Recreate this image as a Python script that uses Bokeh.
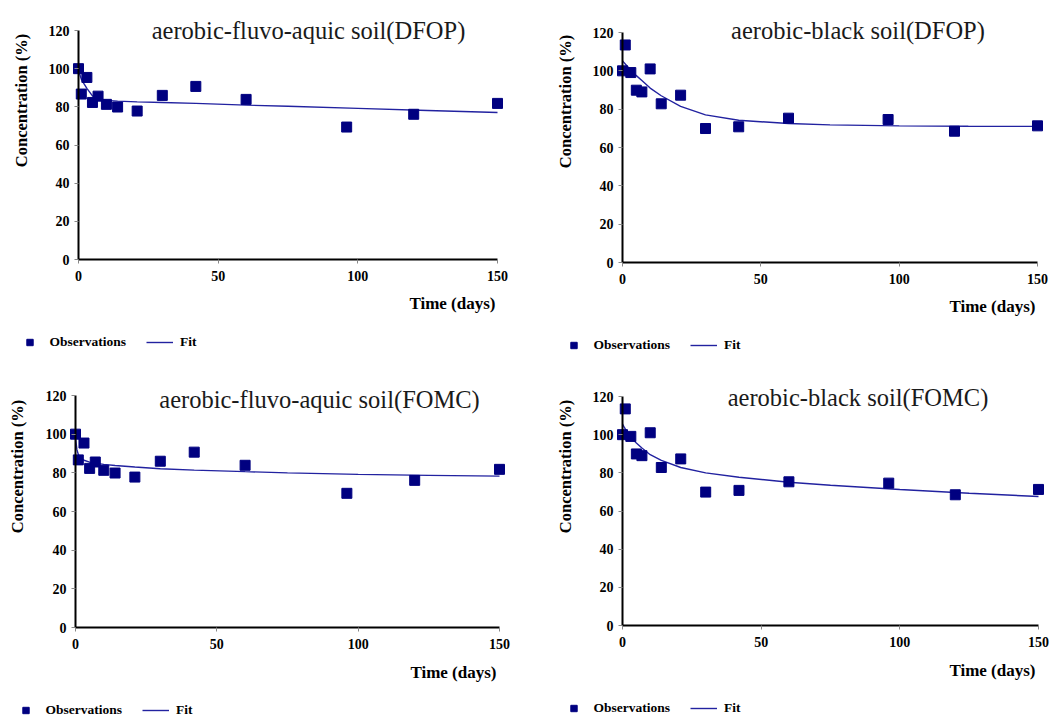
import math
from bokeh.plotting import figure
from bokeh.models import Range1d, Label, Legend, LegendItem, FixedTicker
from bokeh.layouts import row, column
from bokeh.embed import file_html
from bokeh.resources import INLINE

# ---------------- data ----------------
times = [0, 1, 3, 5, 7, 10, 14, 21, 30, 42, 60, 96, 120, 150]
fluvo_obs = [100.0, 86.7, 95.4, 82.3, 85.6, 81.3, 79.9, 77.8, 86.0, 90.7, 83.9, 69.4, 76.1, 81.8]
black_obs = [100.0, 113.5, 99.1, 89.9, 89.0, 101.0, 82.8, 87.3, 69.9, 70.8, 75.3, 74.6, 68.5, 71.3]

fit_t = [0, 0.5, 1, 2, 3, 5, 7, 10, 14, 21, 30, 42, 60, 75, 100, 125, 150]
fit_fluvo_dfop = [99.0, 96.8, 94.5, 92.0, 89.7, 85.7, 84.3, 83.4, 83.0, 82.6, 82.3, 81.8, 80.9, 80.3, 79.2, 78.1, 77.0]
fit_black_dfop = [105.2, 104.4, 103.6, 102.0, 100.5, 97.5, 95.0, 91.0, 87.0, 81.5, 77.0, 74.2, 72.5, 71.8, 71.3, 71.1, 71.0]
fit_fluvo_fomc = [98.0, 92.0, 89.5, 87.5, 86.5, 85.5, 85.0, 84.4, 83.8, 83.0, 82.1, 81.4, 80.6, 80.0, 79.2, 78.7, 78.3]
fit_black_fomc = [105.6, 104.2, 103.0, 100.7, 98.6, 95.6, 93.0, 89.5, 86.5, 82.8, 80.0, 77.7, 75.1, 73.5, 71.3, 69.3, 67.6]

titles = ["aerobic-fluvo-aquic soil(DFOP)", "aerobic-black soil(DFOP)",
          "aerobic-fluvo-aquic soil(FOMC)", "aerobic-black soil(FOMC)"]
y_ticks = [0, 20, 40, 60, 80, 100, 120]
x_ticks = [0, 50, 100, 150]
y_label = "Concentration (%)"
x_label = "Time (days)"
legend_labels = ["Observations", "Fit"]

SERIF = "Liberation Serif"
OBS_COLOR = "#000080"
FIT_COLOR = "#2222a0"
W, H = 529, 360
X0, X1, Y0, Y1 = 0.0, 150.0, 0.0, 120.0


def make_panel(title, obs, fit, L, R, T, B, title_cx, title_base,
               ylab_cx, ylab_cy, xlab_right, xlab_cy, leg_x0, leg_cy):
    # frame covers the whole canvas; data box [0,150]x[0,120] maps to L..R, B..T pixels
    sx = (X1 - X0) / (R - L)
    sy = (Y1 - Y0) / (B - T)

    def dx(px):
        return X0 + (px - L) * sx

    def dy(py):
        return Y0 + (B - py) * sy

    p = figure(width=W, height=H,
               x_range=Range1d(dx(0), dx(W)), y_range=Range1d(dy(H), dy(0)),
               output_backend="svg", toolbar_location=None,
               min_border=0, min_border_left=0, min_border_right=0,
               min_border_top=0, min_border_bottom=0)
    p.xgrid.visible = False
    p.ygrid.visible = False
    p.outline_line_color = None
    p.background_fill_color = "white"
    p.border_fill_color = "white"

    for ax, ticks, bnds in ((p.xaxis[0], x_ticks, (X0, X1)), (p.yaxis[0], y_ticks, (Y0, Y1))):
        ax.ticker = FixedTicker(ticks=ticks)
        ax.bounds = bnds
        ax.fixed_location = 0
        ax.axis_line_color = "black"
        ax.axis_line_width = 2
        ax.major_tick_line_color = "#888888"
        ax.major_tick_line_width = 1
        ax.major_tick_out = 4
        ax.major_tick_in = 0
        ax.minor_tick_line_color = None
        ax.major_label_text_font = SERIF
        ax.major_label_text_font_style = "bold"
        ax.major_label_text_font_size = "14px"
        ax.major_label_text_color = "black"
    p.yaxis[0].major_label_standoff = 5
    p.xaxis[0].major_label_standoff = 7

    r_fit = p.line(fit_t, fit, line_color=FIT_COLOR, line_width=1.4)
    r_obs = p.scatter(times, obs, marker="square", size=10,
                      fill_color=OBS_COLOR, line_color=OBS_COLOR)

    p.add_layout(Label(x=dx(title_cx), y=dy(title_base), text=title,
                       text_align="center", text_baseline="alphabetic",
                       text_font=SERIF, text_font_size="24.5px", text_color="#1a1a1a"))
    p.add_layout(Label(x=dx(ylab_cx), y=dy(ylab_cy), text=y_label, angle=math.pi / 2,
                       text_align="center", text_baseline="middle",
                       text_font=SERIF, text_font_style="bold", text_font_size="16.5px",
                       text_color="black"))
    p.add_layout(Label(x=dx(xlab_right), y=dy(xlab_cy), text=x_label,
                       text_align="right", text_baseline="middle",
                       text_font=SERIF, text_font_style="bold", text_font_size="17px",
                       text_color="black"))

    legend = Legend(items=[LegendItem(label=legend_labels[0], renderers=[r_obs]),
                           LegendItem(label=legend_labels[1], renderers=[r_fit])],
                    orientation="horizontal",
                    location=(leg_x0, H - (leg_cy + 8)),
                    glyph_width=27, glyph_height=16, label_height=16,
                    label_standoff=7, spacing=20, padding=0, margin=0,
                    border_line_color=None, background_fill_alpha=0,
                    label_text_font=SERIF, label_text_font_style="bold",
                    label_text_font_size="13.5px", label_text_color="black")
    p.add_layout(legend, "center")
    return p


p1 = make_panel(titles[0], fluvo_obs, fit_fluvo_dfop, 78, 497, 30, 259,
                308, 30, 21, 100, 495, 303, 15.5, 342)
p2 = make_panel(titles[1], black_obs, fit_black_dfop, 93, 508, 32, 262,
                328.5, 30, 36, 101, 506, 306, 30.5, 345)
p3 = make_panel(titles[2], fluvo_obs, fit_fluvo_fomc, 75, 499, 35, 267,
                319, 39, 17, 106, 496, 312, 11.5, 350)
p4 = make_panel(titles[3], black_obs, fit_black_fomc, 93, 509, 36, 265,
                328.5, 37, 36, 106, 506, 310, 30.5, 348)

layout = column(row(p1, p2), row(p3, p4))
open("out.html", "w").write(file_html(layout, INLINE))
